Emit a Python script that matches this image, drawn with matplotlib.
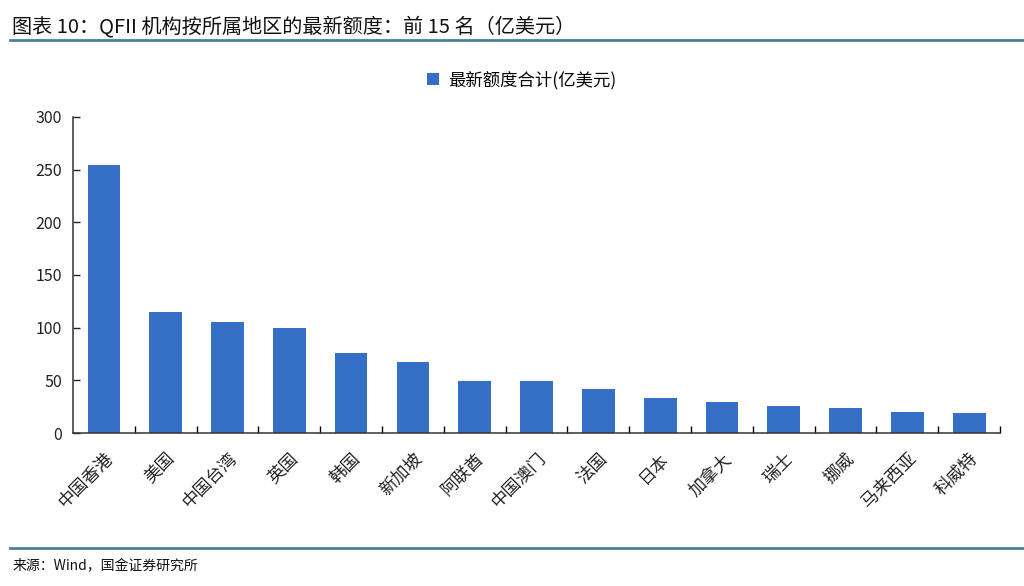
"""QFII quota by region: top 15 (bar chart)."""

import matplotlib
matplotlib.use("Agg")
import matplotlib.pyplot as plt
from matplotlib.lines import Line2D
import numpy as np

plt.rcParams["font.family"] = ["Noto Sans CJK SC", "DejaVu Sans"]

REGIONS = [
    "中国香港", "美国", "中国台湾", "英国", "韩国", "新加坡", "阿联酋", "中国澳门",
    "法国", "日本", "加拿大", "瑞士", "挪威", "马来西亚", "科威特",
]
QUOTA = [254.8, 115.0, 105.6, 99.5, 75.8, 67.3, 49.6, 49.8,
         41.9, 33.1, 29.6, 26.1, 24.2, 20.2, 19.5]
Y_TICKS = [0, 50, 100, 150, 200, 250, 300]

BAR_COLOR = "#3670C6"
RULE_COLOR = "#4C7F9E"

fig = plt.figure(figsize=(10.24, 5.86), dpi=100)
ax = fig.add_axes([0.0713, 0.261, 0.9053, 0.5395])

x = np.arange(len(REGIONS))
ax.bar(x, QUOTA, width=0.53, color=BAR_COLOR, label="最新额度合计(亿美元)")

ax.set_xlim(-0.5, len(REGIONS) - 0.5)
ax.set_ylim(0, 300)
ax.set_yticks(Y_TICKS)
ax.tick_params(axis="y", direction="in", length=5, width=1, labelsize=11.5,
               colors="#222222", pad=8)

ax.set_xticks(x)
ax.set_xticklabels(REGIONS, rotation=45, ha="right", rotation_mode="anchor",
                   fontsize=12.5, color="#222222")
ax.tick_params(axis="x", which="major", length=0, pad=12)
ax.set_xticks(np.arange(0.5, len(REGIONS), 1.0), minor=True)
ax.tick_params(axis="x", which="minor", direction="in", length=5, width=1)

for side in ("top", "right"):
    ax.spines[side].set_visible(False)
for side in ("left", "bottom"):
    ax.spines[side].set_color("#333333")
    ax.spines[side].set_linewidth(1.1)

ax.legend(loc="center", bbox_to_anchor=(0.484, 1.117), frameon=False,
          fontsize=12.5, handlelength=0.7, handleheight=0.7, handletextpad=0.5)

# header and footer
fig.text(0.012, 0.955, "图表 10：QFII 机构按所属地区的最新额度：前 15 名（亿美元）",
         fontsize=14.5, color="#111111", va="center")
fig.add_artist(Line2D([0.01, 1.0], [0.931, 0.931], transform=fig.transFigure,
                      color=RULE_COLOR, linewidth=2))
fig.add_artist(Line2D([0.01, 1.0], [0.065, 0.065], transform=fig.transFigure,
                      color=RULE_COLOR, linewidth=2))
fig.text(0.012, 0.033, "来源：Wind，国金证券研究所", fontsize=10, color="#111111",
         va="center")

fig.savefig("out.png", dpi=100)
